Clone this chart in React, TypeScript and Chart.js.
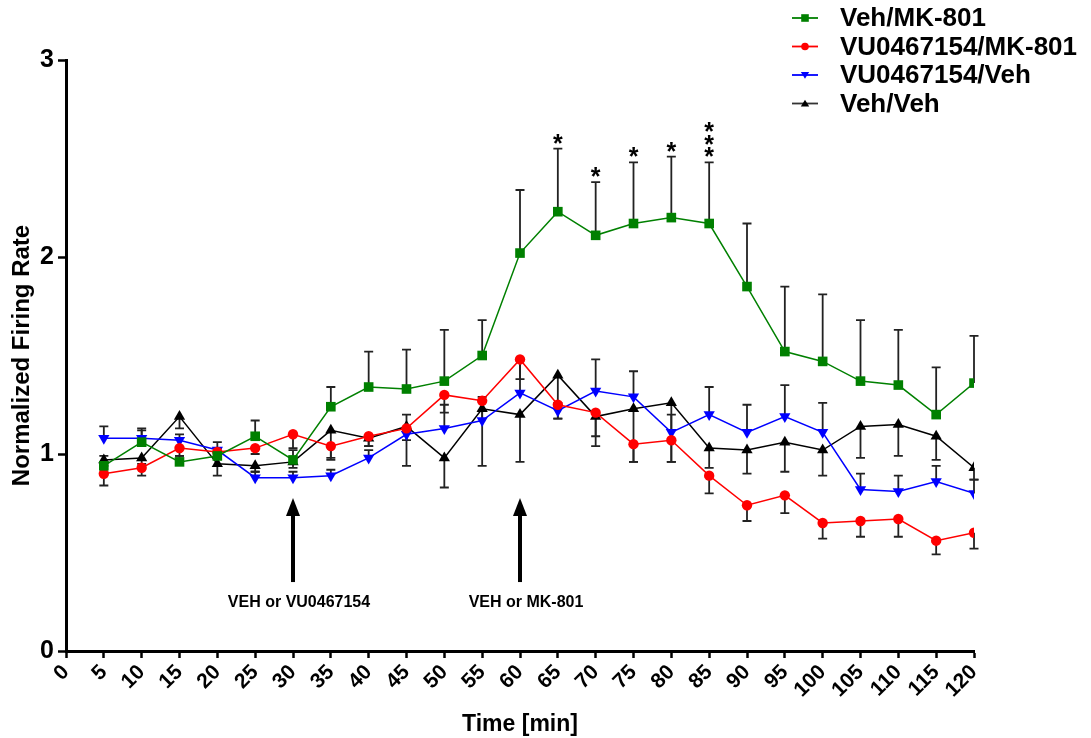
import React, { useEffect, useRef } from "react";
import { Chart, registerables } from "chart.js";

Chart.register(...registerables);

const times = [5, 10, 15, 20, 25, 30, 35, 40, 45, 50, 55, 60, 65, 70, 75, 80, 85, 90, 95, 100, 105, 110, 115, 120];

const vehMk = [0.94, 1.06, 0.96, 0.99, 1.09, 0.97, 1.24, 1.34, 1.33, 1.37, 1.50, 2.02, 2.23, 2.11, 2.17, 2.20, 2.17, 1.85, 1.52, 1.47, 1.37, 1.35, 1.20, 1.36];
const vehMkErr = [0.05, 0.06, 0.03, 0.04, 0.08, 0.05, 0.10, 0.18, 0.20, 0.26, 0.18, 0.32, 0.32, 0.27, 0.31, 0.31, 0.31, 0.32, 0.33, 0.34, 0.31, 0.28, 0.24, 0.24];

const vuMk = [0.90, 0.93, 1.03, 1.01, 1.03, 1.10, 1.04, 1.09, 1.13, 1.30, 1.27, 1.48, 1.25, 1.21, 1.05, 1.07, 0.89, 0.74, 0.79, 0.65, 0.66, 0.67, 0.56, 0.60];
const vuMkErr = [0.06, 0.04, 0.04, 0.03, 0.03, 0.07, 0.06, 0.05, 0.06, 0.09, 0.05, 0.10, 0.07, 0.12, 0.09, 0.11, 0.09, 0.08, 0.09, 0.08, 0.08, 0.09, 0.07, 0.08];

const vuVeh = [1.08, 1.08, 1.07, 1.02, 0.88, 0.88, 0.89, 0.98, 1.10, 1.13, 1.17, 1.31, 1.22, 1.32, 1.29, 1.11, 1.20, 1.11, 1.19, 1.11, 0.82, 0.81, 0.86, 0.80];
const vuVehErr = [0.06, 0.05, 0.03, 0.04, 0.03, 0.03, 0.03, 0.04, 0.10, 0.12, 0.12, 0.17, 0.04, 0.16, 0.13, 0.09, 0.14, 0.14, 0.16, 0.15, 0.08, 0.08, 0.08, 0.07];

const vehVeh = [0.97, 0.98, 1.19, 0.95, 0.94, 0.96, 1.12, 1.08, 1.14, 0.98, 1.23, 1.20, 1.40, 1.19, 1.23, 1.26, 1.03, 1.02, 1.06, 1.02, 1.14, 1.15, 1.09, 0.93];
const vehVehErr = [0.03, 0.03, 0.06, 0.06, 0.03, 0.03, 0.15, 0.04, 0.20, 0.15, 0.29, 0.24, 0.22, 0.15, 0.27, 0.30, 0.10, 0.12, 0.15, 0.13, 0.16, 0.16, 0.12, 0.06];

const seriesNames = ["Veh/MK-801", "VU0467154/MK-801", "VU0467154/Veh", "Veh/Veh"];
const seriesColors = ["#008000", "#ff0000", "#0000ff", "#000000"];
const seriesMarkers = ["rect", "circle", "triangleDown", "triangle"];
const errDirections = [1, -1, 1, -1];

const starTimes = [65, 70, 75, 80, 85];
const starCounts = [1, 1, 1, 1, 3];

const arrowTimes = [30, 60];
const arrowLabels = ["VEH or VU0467154", "VEH or MK-801"];

const xTickMax = 120;
const yTicks = [0, 1, 2, 3];

const FONT = "'Liberation Sans', Arial, sans-serif";

function drawMarker(ctx: CanvasRenderingContext2D, kind: string, x: number, y: number, s: number, color: string) {
  ctx.save();
  ctx.fillStyle = color;
  ctx.beginPath();
  if (kind === "rect") {
    ctx.rect(x - s, y - s, 2 * s, 2 * s);
  } else if (kind === "circle") {
    ctx.arc(x, y, s, 0, Math.PI * 2);
  } else if (kind === "triangleDown") {
    ctx.moveTo(x - s * 1.1, y - s * 0.8);
    ctx.lineTo(x + s * 1.1, y - s * 0.8);
    ctx.lineTo(x, y + s * 1.0);
    ctx.closePath();
  } else {
    ctx.moveTo(x - s * 1.1, y + s * 0.8);
    ctx.lineTo(x + s * 1.1, y + s * 0.8);
    ctx.lineTo(x, y - s * 1.0);
    ctx.closePath();
  }
  ctx.fill();
  ctx.restore();
}

export default function App() {
  const ref = useRef<HTMLCanvasElement | null>(null);

  useEffect(() => {
    if (!ref.current) return;
    const values = [vehMk, vuMk, vuVeh, vehVeh];
    const errs = [vehMkErr, vuMkErr, vuVehErr, vehVehErr];

    const errorBarPlugin = {
      id: "errorBars",
      beforeDatasetsDraw(chart: any) {
        const ctx = chart.ctx;
        const y = chart.scales.y;
        const x = chart.scales.x;
        ctx.save();
        ctx.strokeStyle = "#222";
        ctx.lineWidth = 1.8;
        values.forEach((vals, si) => {
          vals.forEach((v, i) => {
            const px = x.getPixelForValue(times[i]);
            const py0 = y.getPixelForValue(v);
            const py1 = y.getPixelForValue(v + errDirections[si] * errs[si][i]);
            ctx.beginPath();
            ctx.moveTo(px, py0);
            ctx.lineTo(px, py1);
            ctx.moveTo(px - 4.5, py1);
            ctx.lineTo(px + 4.5, py1);
            ctx.stroke();
          });
        });
        ctx.restore();
      },
    };

    const annotationPlugin = {
      id: "annotations",
      afterDraw(chart: any) {
        const ctx = chart.ctx;
        const y = chart.scales.y;
        const x = chart.scales.x;
        ctx.save();
        // arrows
        arrowTimes.forEach((t, i) => {
          const px = x.getPixelForValue(t);
          const tip = y.getPixelForValue(0.777);
          const bottom = y.getPixelForValue(0.35);
          ctx.strokeStyle = "#000";
          ctx.lineWidth = 4;
          ctx.beginPath();
          ctx.moveTo(px, bottom);
          ctx.lineTo(px, tip + 14);
          ctx.stroke();
          ctx.fillStyle = "#000";
          ctx.beginPath();
          ctx.moveTo(px, tip);
          ctx.lineTo(px - 7, tip + 18);
          ctx.lineTo(px + 7, tip + 18);
          ctx.closePath();
          ctx.fill();
          ctx.font = `bold 16px ${FONT}`;
          ctx.textAlign = "center";
          ctx.textBaseline = "middle";
          ctx.fillText(arrowLabels[i], px + 6, y.getPixelForValue(0.244));
        });
        // stars
        ctx.font = `bold 25px ${FONT}`;
        ctx.textAlign = "center";
        ctx.textBaseline = "alphabetic";
        ctx.fillStyle = "#000";
        starTimes.forEach((t, i) => {
          const idx = times.indexOf(t);
          const px = x.getPixelForValue(t);
          const top = y.getPixelForValue(vehMk[idx] + vehMkErr[idx]);
          for (let k = 0; k < starCounts[i]; k++) {
            const cy = top - 12 - k * 12.5;
            ctx.fillText("*", px, cy + 15);
          }
        });
        // legend
        seriesNames.forEach((name, i) => {
          const cy = 18 + i * 28.5;
          ctx.strokeStyle = seriesColors[i] === "#000000" ? "#333" : seriesColors[i];
          ctx.lineWidth = 1.8;
          ctx.beginPath();
          ctx.moveTo(792, cy);
          ctx.lineTo(818, cy);
          ctx.stroke();
          drawMarker(ctx, seriesMarkers[i], 805, cy, 3.8, seriesColors[i]);
          ctx.fillStyle = "#000";
          ctx.font = `bold 26px ${FONT}`;
          ctx.textAlign = "left";
          ctx.textBaseline = "middle";
          ctx.fillText(name, 840, cy + 1);
        });
        ctx.restore();
      },
    };

    const pointStyles: any[] = ["rect", "circle", "triangle", "triangle"];
    const pointRot = [0, 0, 180, 0];
    const radii = [6.8, 5.2, 6.5, 6.5];

    const chart = new Chart(ref.current, {
      type: "line",
      data: {
        datasets: values.map((vals, si) => ({
          label: seriesNames[si],
          data: vals.map((v, i) => ({ x: times[i], y: v })),
          borderColor: seriesColors[si],
          backgroundColor: seriesColors[si],
          borderWidth: 1.5,
          pointStyle: pointStyles[si],
          pointRotation: pointRot[si],
          pointRadius: radii[si],
          pointBorderWidth: 0,
          pointBackgroundColor: seriesColors[si],
          tension: 0,
          fill: false,
        })),
      },
      options: {
        animation: false,
        responsive: false,
        devicePixelRatio: 1,
        layout: { padding: { top: 60, right: 117, left: 0, bottom: 0 } },
        plugins: { legend: { display: false }, tooltip: { enabled: false } },
        scales: {
          x: {
            type: "linear",
            min: 0,
            max: xTickMax,
            afterFit: (s: any) => {
              s.height = 87;
            },
            ticks: {
              stepSize: 5,
              minRotation: 45,
              maxRotation: 45,
              autoSkip: false,
              color: "#000",
              padding: 2,
              font: { family: FONT, weight: "bold", size: 21 },
            },
            grid: { display: true, drawOnChartArea: false, drawTicks: true, tickLength: 7, tickColor: "#000", tickWidth: 2.5 },
            border: { display: true, color: "#000", width: 3 },
            title: {
              display: true,
              text: "Time [min]",
              color: "#000",
              font: { family: FONT, weight: "bold", size: 23 },
              padding: { top: 0, bottom: 0 },
            },
          },
          y: {
            type: "linear",
            min: yTicks[0],
            max: yTicks[yTicks.length - 1],
            afterFit: (s: any) => {
              s.width = 66;
            },
            ticks: {
              stepSize: 1,
              color: "#000",
              padding: 4,
              font: { family: FONT, weight: "bold", size: 25 },
            },
            grid: { display: true, drawOnChartArea: false, drawTicks: true, tickLength: 8, tickColor: "#000", tickWidth: 2.5 },
            border: { display: true, color: "#000", width: 3 },
            title: {
              display: true,
              text: "Normalized Firing Rate",
              color: "#000",
              font: { family: FONT, weight: "bold", size: 24 },
              padding: { top: 8, bottom: 0 },
            },
          },
        },
      },
      plugins: [errorBarPlugin, annotationPlugin],
    } as any);
    return () => chart.destroy();
  }, []);

  return (
    <div style={{ position: "absolute", left: 0, top: 0, width: 1091, height: 738, background: "#fff" }}>
      <canvas ref={ref} width={1091} height={738} style={{ width: 1091, height: 738, display: "block" }} />
    </div>
  );
}
